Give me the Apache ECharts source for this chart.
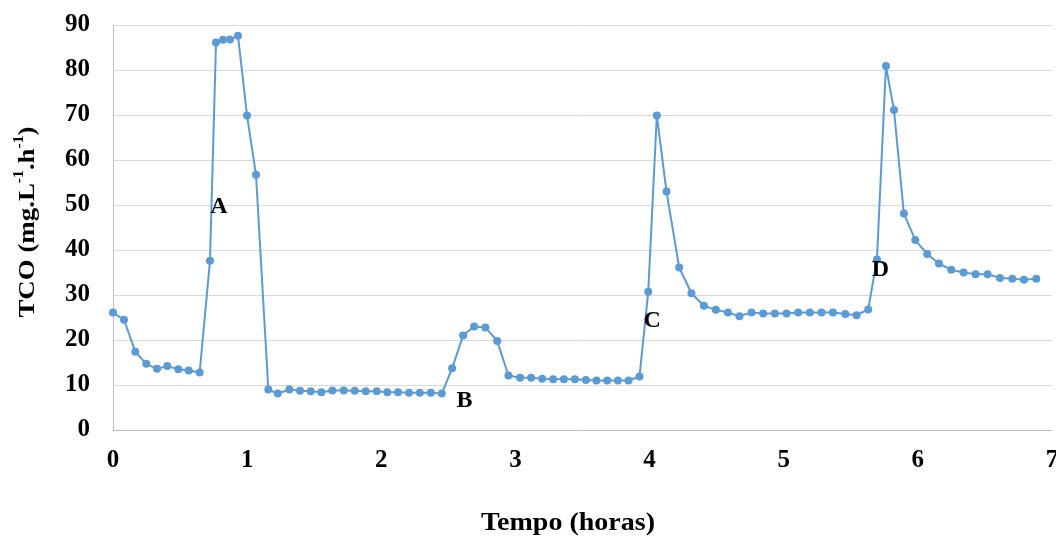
<!DOCTYPE html>
<html>
<head>
<meta charset="utf-8">
<script src="https://cdn.jsdelivr.net/npm/echarts@6/dist/echarts.min.js"></script>
<style>
html,body{margin:0;padding:0;background:#fff;}
#chart{width:1056px;height:539px;}
</style>
</head>
<body>
<div id="chart"></div>
<script>
// Time (hours)
var timeHours = [0, 0.082, 0.166, 0.248, 0.328, 0.405, 0.487, 0.564, 0.646, 0.723, 0.768, 0.820, 0.872, 0.932, 0.999, 1.066, 1.158, 1.228,
  1.315, 1.394, 1.474, 1.553, 1.635, 1.720, 1.802, 1.884, 1.966, 2.045, 2.125, 2.207, 2.287, 2.369, 2.451,
  2.528, 2.610, 2.692, 2.776, 2.864, 2.948, 3.035, 3.117, 3.199, 3.281, 3.361, 3.443, 3.525, 3.604, 3.684, 3.764, 3.843, 3.925,
  3.990, 4.054, 4.126, 4.221, 4.312, 4.405, 4.494, 4.584, 4.670, 4.760, 4.847, 4.934, 5.021, 5.108, 5.195, 5.282, 5.367, 5.459, 5.543, 5.630,
  5.695, 5.762, 5.822, 5.896, 5.981, 6.070, 6.157, 6.249, 6.341, 6.430, 6.520, 6.612, 6.704, 6.791, 6.883];
// TCO (mg.L-1.h-1)
var tco = [26.1, 24.5, 17.4, 14.7, 13.6, 14.2, 13.5, 13.2, 12.8, 37.6, 86.1, 86.7, 86.8, 87.6, 69.9, 56.7, 9.0, 8.1,
  9.0, 8.7, 8.6, 8.4, 8.8, 8.8, 8.7, 8.6, 8.6, 8.4, 8.4, 8.3, 8.3, 8.3, 8.1,
  13.7, 21.0, 23.0, 22.8, 19.8, 12.1, 11.6, 11.6, 11.4, 11.3, 11.3, 11.3, 11.1, 11.0, 11.0, 11.0, 11.0, 11.9,
  30.7, 69.9, 53.0, 36.1, 30.4, 27.6, 26.7, 26.1, 25.3, 26.1, 25.9, 25.9, 25.9, 26.1, 26.1, 26.1, 26.1, 25.8, 25.5, 26.8,
  37.9, 80.9, 71.1, 48.1, 42.2, 39.1, 37.0, 35.6, 35.0, 34.6, 34.6, 33.8, 33.6, 33.4, 33.6];
// Annotation letters and their positions in data units
var annotLabels = ['A', 'B', 'C', 'D'];
var annotTime = [0.79, 2.62, 4.02, 5.72];
var annotValue = [49.6, 6.4, 24.2, 35.6];

var seriesData = timeHours.map(function (t, i) { return [t, tco[i]]; });
var annotData = annotLabels.map(function (l, i) { return { value: [annotTime[i], annotValue[i]], name: l }; });

var serif = '"Liberation Serif", "Times New Roman", serif';
var chart = echarts.init(document.getElementById('chart'), null, { renderer: 'canvas' });
chart.setOption({
  animation: false,
  backgroundColor: '#ffffff',
  grid: { left: 113, right: 4, top: 25, bottom: 109, containLabel: false, outerBoundsMode: 'none' },
  xAxis: {
    type: 'value', min: 0, max: 7, interval: 1,
    axisLine: { show: true, lineStyle: { color: '#bfbfbf', width: 1 } },
    axisTick: { show: false },
    splitLine: { show: false },
    axisLabel: { color: '#000', fontFamily: serif, fontWeight: 'bold', fontSize: 25, margin: 18 }
  },
  yAxis: {
    type: 'value', min: 0, max: 90, interval: 10,
    axisLine: { show: true, lineStyle: { color: '#bfbfbf', width: 1 } },
    axisTick: { show: false },
    splitLine: { show: true, lineStyle: { color: '#d9d9d9', width: 1 } },
    axisLabel: { color: '#000', fontFamily: serif, fontWeight: 'bold', fontSize: 25, margin: 23 }
  },
  graphic: [{
    type: 'text', x: 568, y: 524, scaleX: 1.12,
    style: { text: 'Tempo (horas)', fill: '#000', font: 'bold 25px ' + serif, align: 'center', verticalAlign: 'middle' }
  }, {
    type: 'text', x: 26, y: 222, rotation: Math.PI / 2, scaleX: 1.12,
    style: {
      text: '{n|TCO (mg.L}{s|-1}{n|.h}{s|-1}{n|)}',
      align: 'center', verticalAlign: 'middle',
      rich: {
        n: { fontFamily: serif, fontWeight: 'bold', fontSize: 24, fill: '#000', lineHeight: 28, verticalAlign: 'bottom' },
        s: { fontFamily: serif, fontWeight: 'bold', fontSize: 14, fill: '#000', lineHeight: 28, verticalAlign: 'top', padding: [0, 0, 10, 0] }
      }
    }
  }],
  series: [{
    type: 'line',
    data: seriesData,
    symbol: 'circle',
    symbolSize: 8,
    showAllSymbol: true,
    lineStyle: { color: '#5b9bd5', width: 2 },
    itemStyle: { color: '#5b9bd5' },
    z: 2
  }, {
    type: 'scatter',
    data: annotData,
    symbol: 'circle',
    symbolSize: 1,
    itemStyle: { opacity: 0 },
    silent: true,
    z: 5,
    label: {
      show: true, position: 'inside', opacity: 1,
      formatter: function (p) { return p.name; },
      color: '#000000', textBorderWidth: 0, fontFamily: serif, fontWeight: 'bold', fontSize: 24
    }
  }]
});
</script>
</body>
</html>
